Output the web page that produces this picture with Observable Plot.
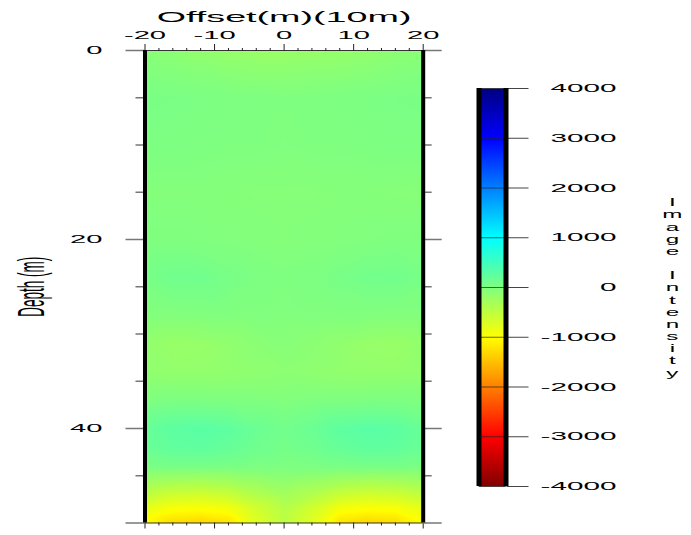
<!DOCTYPE html>
<html><head><meta charset="utf-8">
<script src="https://cdn.jsdelivr.net/npm/d3@7"></script>
<script src="https://cdn.jsdelivr.net/npm/@observablehq/plot@0.6"></script>
<style>
html,body{margin:0;padding:0;background:#fff;}
#chart{position:relative;width:691px;height:535px;overflow:hidden;background:#fff;}
#chart svg{position:absolute;left:0;top:0;}
</style></head><body><div id="chart"></div>
<script>
// ---- data ----
const offsets = [-20, -16, -12, -8, -4, 0, 4, 8, 12, 16, 20];
const depths = [0, 2, 5, 10, 15, 20, 24, 28, 31, 34, 37, 40, 42, 44, 45.5, 47, 48.5, 50];
const intensity = [
  [-60, -100, -150, -180, -200, -200, -190, -170, -140, -100, -70],
  [-20, -40, -60, -90, -110, -110, -100, -90, -70, -40, -20],
  [50, 40, 30, 20, 10, 0, 10, 20, 30, 40, 50],
  [20, 20, 10, 0, 0, -10, 0, 0, 10, 20, 20],
  [-30, -30, -30, -40, -50, -50, -50, -40, -40, -50, -60],
  [0, 0, -10, -20, -30, -40, -30, -20, -10, 0, 0],
  [60, 110, 110, 60, 20, 0, 20, 60, 100, 100, 60],
  [-20, -30, -20, -10, -10, -20, -10, -10, -20, -30, -20],
  [-150, -190, -180, -140, -90, -60, -90, -140, -180, -190, -150],
  [-140, -150, -150, -140, -120, -100, -120, -140, -150, -150, -140],
  [0, 20, 20, 10, 0, -20, 0, 10, 20, 20, 0],
  [180, 270, 300, 260, 160, 100, 160, 260, 300, 270, 180],
  [170, 240, 250, 200, 120, 80, 120, 200, 250, 240, 170],
  [40, 60, 60, 40, 20, 10, 20, 40, 60, 60, 40],
  [-220, -280, -300, -260, -190, -130, -190, -260, -300, -280, -220],
  [-500, -620, -650, -580, -400, -280, -400, -580, -650, -620, -500],
  [-820, -960, -980, -930, -650, -420, -650, -930, -980, -960, -820],
  [-1000, -1280, -1330, -1230, -750, -480, -750, -1230, -1330, -1280, -1000]
];
const xMajorTicks = [-20, -10, 0, 10, 20];
const xMinorTicks = [-18, -16, -14, -12, -8, -6, -4, -2, 2, 4, 6, 8, 12, 14, 16, 18];
const yLabelTicks = [0, 20, 40];
const yLongTicks = [0, 20, 40, 50];
const yMinorTicks = [5, 10, 15, 25, 30, 35, 45];
const colorTicks = [-4000, -3000, -2000, -1000, 0, 1000, 2000, 3000, 4000];
const colorStops = [-4000, -3000, -1000, 1000, 3000, 4000];
const colorRange = ["#800000", "#ff0000", "#ffff00", "#00ffff", "#0000ff", "#000080"];
const xTitle = "Offset(m)(10m)";
const yTitle = "Depth (m)";
const colorTitle = "Image Intensity";

const cells = [];
depths.forEach((d, i) => offsets.forEach((o, j) => cells.push({offset: o, depth: d, value: intensity[i][j]})));

const font = "'Liberation Sans', Arial, Helvetica, sans-serif";
const colorScale = {type: "linear", domain: colorStops, range: colorRange, interpolate: "rgb", clamp: true};
const xExt = d3.extent(offsets), yExt = d3.extent(depths);

const main = Plot.plot({
  width: 691, height: 535,
  marginTop: 50, marginBottom: 12.5, marginLeft: 144.5, marginRight: 268.3,
  style: {fontFamily: font, fontSize: "11px", background: "transparent", color: "#000", overflow: "visible"},
  x: {domain: xExt, label: null},
  y: {domain: yExt, reverse: true, label: null},
  color: colorScale,
  marks: [
    Plot.raster(cells, {x: "offset", y: "depth", fill: "value", interpolate: "barycentric", pixelSize: 1,
      x1: xExt[0], x2: xExt[1], y1: yExt[0], y2: yExt[1]}),
    Plot.ruleY(yExt, {stroke: "#333", strokeWidth: 1}),
    Plot.axisX(xMajorTicks, {anchor: "top", tickSize: 7, tickPadding: 5, tickFormat: d => String(d), fontSize: 11, stroke: "#222", fill: "#000", label: null}),
    Plot.axisX(xMinorTicks, {anchor: "top", tickSize: 3, text: null, stroke: "#222", label: null}),
    Plot.axisX(xMajorTicks, {anchor: "bottom", tickSize: 6, text: null, stroke: "#222", label: null}),
    Plot.axisX(xMinorTicks, {anchor: "bottom", tickSize: 3, text: null, stroke: "#222", label: null}),
    Plot.axisY(yLongTicks, {anchor: "left", tickSize: 19, text: null, stroke: "#777", strokeWidth: 1.5, label: null}),
    Plot.axisY(yMinorTicks, {anchor: "left", tickSize: 9, text: null, stroke: "#777", strokeWidth: 1.5, label: null}),
    Plot.axisY(yLabelTicks, {anchor: "left", tickSize: 0, tickPadding: 42.5, tickFormat: d => String(d), fontSize: 11, fill: "#000", label: null}),
    Plot.axisY(yLongTicks, {anchor: "right", tickSize: 18, text: null, stroke: "#777", strokeWidth: 1.5, label: null}),
    Plot.axisY(yMinorTicks, {anchor: "right", tickSize: 8, text: null, stroke: "#777", strokeWidth: 1.5, label: null}),
    Plot.ruleX(xExt, {stroke: "#000", strokeWidth: 4}),
    Plot.text([xTitle], {text: d => d, frameAnchor: "top", dy: -38.5, fontSize: 14.5, fill: "#000"}),
    Plot.text([yTitle], {text: d => d, frameAnchor: "left", textAnchor: "middle", dx: -113, rotate: -90, fontSize: 13.5, fill: "#000"})
  ]
});

const bar = Plot.plot({
  width: 691, height: 535,
  marginTop: 88, marginBottom: 49, marginLeft: 478.5, marginRight: 185.5,
  style: {fontFamily: font, fontSize: "11px", background: "transparent", color: "#000", overflow: "visible"},
  x: {domain: [0, 1], axis: null},
  y: {domain: d3.extent(colorTicks), label: null},
  color: colorScale,
  marks: [
    Plot.raster({x1: 0, x2: 1, y1: colorTicks[0], y2: colorTicks[colorTicks.length - 1], fill: (x, y) => y, pixelSize: 1}),
    Plot.gridY(colorTicks, {stroke: "#222", strokeOpacity: 0.7, strokeWidth: 1}),
    Plot.axisY(colorTicks, {anchor: "right", tickSize: 22, text: null, stroke: "#444", label: null}),
    Plot.ruleX([0, 1], {stroke: "#000", strokeWidth: 5}),
    Plot.text(colorTicks, {y: d => d, text: d => String(d), frameAnchor: "right", dx: 110.5, textAnchor: "end", fontSize: 11, fill: "#000"}),
    Plot.text([colorTitle], {text: d => d.split("").join("\n"), frameAnchor: "right", textAnchor: "middle", dx: 166.5, fontSize: 10.5, lineHeight: 1.16, fill: "#000"})
  ]
});

const chart = document.getElementById("chart");
chart.appendChild(main);
chart.appendChild(bar);

// the reference's lettering is stretched horizontally
function stretchText(svg, rule) {
  const sr = svg.getBoundingClientRect();
  for (const t of Array.from(svg.querySelectorAll("text"))) {
    const r = rule(t);
    if (!r) continue;
    const b = t.getBoundingClientRect();
    let sx = r.anchor === "end" ? b.right : r.anchor === "start" ? b.left : (b.left + b.right) / 2;
    sx -= sr.left;
    const parent = t.parentNode;
    const ctm = parent.getCTM();
    const p = svg.createSVGPoint(); p.x = sx; p.y = 0;
    const lp = ctm ? p.matrixTransform(ctm.inverse()) : p;
    const g = document.createElementNS("http://www.w3.org/2000/svg", "g");
    g.setAttribute("transform", `translate(${lp.x},0) scale(${r.s},1) translate(${-lp.x},0)`);
    parent.insertBefore(g, t);
    g.appendChild(t);
  }
}
stretchText(main, t => {
  const txt = t.textContent;
  if (txt === xTitle) return {anchor: "middle", s: 2.6};
  if (txt === yTitle) return {anchor: "middle", s: 2.8};
  const lab = (t.parentNode.getAttribute("aria-label") || "");
  if (lab.startsWith("y-axis")) return {anchor: "end", s: 2.65};
  return {anchor: "middle", s: 2.65};
});
stretchText(bar, t => {
  const txt = t.textContent;
  if (txt.replace(/\s/g, "") === colorTitle.replace(/\s/g, "")) return {anchor: "middle", s: 2.3};
  return {anchor: "end", s: 2.7};
});
</script></body></html>
